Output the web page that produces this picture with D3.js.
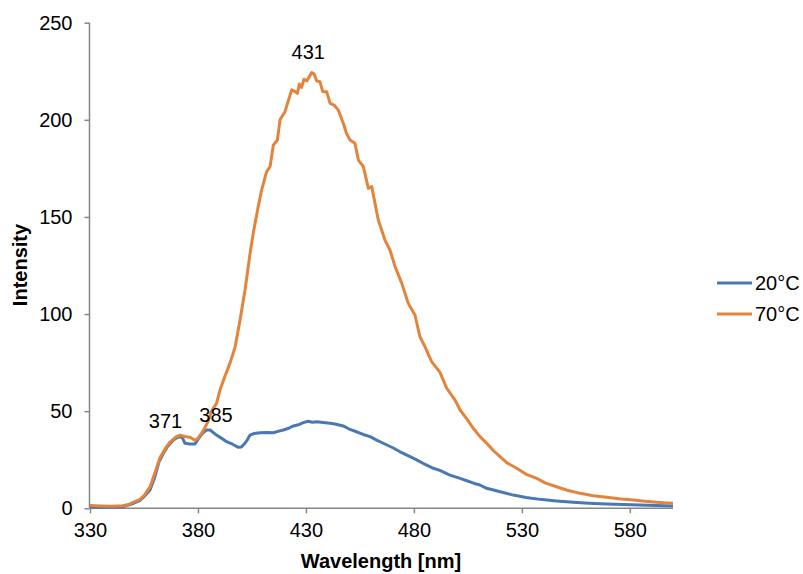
<!DOCTYPE html>
<html>
<head>
<meta charset="utf-8">
<script src="https://cdn.jsdelivr.net/npm/d3@7"></script>
<style>
  html, body { margin: 0; padding: 0; background: #fff; }
  svg { display: block; font-family: "Liberation Sans", Arial, sans-serif; }
</style>
</head>
<body>
<svg id="chart" width="803" height="574"></svg>
<script>
// ---- data ----
const xTicks = [330, 380, 430, 480, 530, 580];
const yTicks = [0, 50, 100, 150, 200, 250];
const seriesNames = ["20°C", "70°C"];

const nm20 = [330, 335, 340, 345, 350, 353, 355, 357.8, 360, 362, 364, 366, 368.6, 370.5, 372.5, 374, 376.3, 378.6, 380.9, 382.5, 384, 385.6, 388.6, 391, 393.3, 396, 398.7, 400, 401.8, 403, 404.1, 406, 408.7, 412, 414.9, 417, 419.5, 422, 424.2, 426.5, 428.8, 431, 433, 435, 438, 441.2, 444, 447.3, 450, 453.5, 456.5, 459.7, 463, 465.8, 470, 473.6, 477.5, 481.3, 485, 489, 492, 496.7, 501.4, 504.5, 508, 510.6, 513.7, 520, 526, 532, 538.4, 546, 553.8, 561, 569.3, 577, 584.7, 592, 600];
const int20 = [0.5, 0.4, 0.5, 0.8, 2.5, 4, 6, 9.4, 16, 24, 28.3, 32, 35.2, 36.5, 36.9, 33.5, 33.1, 33.1, 36.9, 39, 40.3, 40.3, 37.7, 36, 34.3, 33, 31.4, 31.5, 33.5, 35.5, 37.7, 38.5, 38.9, 39, 38.9, 39.6, 40.3, 41.2, 42.4, 43, 44.1, 44.8, 44.3, 44.6, 44.2, 43.8, 43.3, 42.4, 40.8, 39.4, 38, 36.9, 35, 33.5, 31.3, 29.1, 27, 24.9, 22.7, 20.6, 19.5, 17.1, 15.4, 14.2, 12.8, 12, 10.3, 8.5, 6.8, 5.6, 4.6, 3.8, 3.1, 2.6, 2.2, 1.9, 1.7, 1.4, 1.2];

const nm70 = [330, 335, 340, 345, 348, 350, 353, 355, 357.8, 360, 362.4, 365, 367, 369.5, 371.7, 374, 376.5, 378.6, 380, 381.7, 383, 384.6, 386.3, 388.6, 390.2, 392.5, 394.8, 397.2, 399.5, 401.8, 404.1, 405.6, 407.9, 409.5, 411.8, 413.4, 414.9, 416.8, 418, 420.3, 421.9, 423.4, 425, 426, 427, 428, 429.1, 430.4, 432.7, 433.8, 435, 436.5, 437.8, 439.6, 441.2, 443, 445, 447.3, 448.8, 450.4, 452.7, 454.3, 456.6, 458.9, 460.5, 462, 463.5, 466.6, 468.9, 471.3, 474.4, 477.4, 480.5, 482.8, 485.1, 488.2, 492.1, 495.2, 499, 501.4, 504.5, 507.5, 510.5, 513.7, 517, 519.9, 523, 527.6, 532, 536.9, 541, 546.1, 551, 557, 563, 569.3, 575, 581.6, 587, 592.4, 596, 600];
const int70 = [1.5, 1.2, 1.0, 1.3, 2, 3, 4.5, 6.5, 11, 18, 26, 31, 34, 36.5, 37.7, 37, 36.5, 35, 36, 38.7, 41, 44.6, 50, 54, 60.9, 68, 74.6, 83, 97, 112.4, 131, 141.6, 155.3, 163.9, 173.3, 175.9, 187, 189.6, 200, 204.2, 210, 215.4, 214.5, 213.6, 218.4, 216.7, 220.9, 220, 224.3, 223.6, 220, 219.6, 214.5, 214.5, 208.5, 207.6, 205, 198.2, 193, 189.6, 187.9, 179.3, 175.9, 164.7, 165.6, 157, 148.4, 138.1, 133, 124.4, 115.8, 105.5, 99.5, 88.3, 83.2, 75.5, 70, 61.8, 55.8, 50.6, 46, 41.2, 37, 33.5, 29.5, 26.6, 23.5, 20.6, 17.5, 15.4, 13, 11.1, 9.3, 7.7, 6.5, 5.7, 4.9, 4.3, 3.6, 3.1, 2.8, 2.6];

const peakLabels = ["371", "385", "431"];
const peakNm = [371.7, 385.6, 432.7];
const peakVal = [37.7, 40.3, 224.3];

const colors = ["#4a78b4", "#e3843d"];

// ---- chart ----
const svg = d3.select("#chart");
const x = d3.scaleLinear().domain([330, 600]).range([90, 673]);
const y = d3.scaleLinear().domain([0, 250]).range([508.3, 22.7]);
const axisColor = "#868686";

// y axis
const yAxis = svg.append("g").attr("transform", "translate(89.5,0)")
  .call(d3.axisLeft(y).tickValues(yTicks).tickSize(5).tickPadding(12).tickFormat(d3.format("d")));
// x axis
const xAxis = svg.append("g").attr("transform", "translate(0,508.3)")
  .call(d3.axisBottom(x).tickValues(xTicks).tickSize(5).tickPadding(10).tickFormat(d3.format("d")));

[yAxis, xAxis].forEach(g => {
  g.select(".domain").attr("stroke", axisColor).attr("stroke-width", 1.5);
  g.selectAll(".tick line").attr("stroke", axisColor).attr("stroke-width", 1.5);
  g.selectAll(".tick text").attr("fill", "#000").style("font-size", "20px")
    .style("font-family", "'Liberation Sans', Arial, sans-serif");
});
// x-axis domain: make it a flat line (no end ticks)
xAxis.select(".domain").attr("d", `M${x(330)},0H${x(600)}`);
yAxis.select(".domain").attr("d", `M0,${y(250)}V${y(0)}`);

// lines
const series = [
  { name: seriesNames[0], nm: nm20, v: int20, color: colors[0] },
  { name: seriesNames[1], nm: nm70, v: int70, color: colors[1] }
];
const line = d3.line().x(d => x(d[0])).y(d => y(d[1]));
series.forEach(s => {
  svg.append("path")
    .datum(s.nm.map((n, i) => [n, s.v[i]]))
    .attr("fill", "none")
    .attr("stroke", s.color)
    .attr("stroke-width", 3)
    .attr("stroke-linejoin", "round")
    .attr("d", line);
});

// peak annotations
const offs = [[-14.5, -7], [6, -8], [-3.5, -13.5]];
peakLabels.forEach((t, i) => {
  svg.append("text")
    .attr("x", x(peakNm[i]) + offs[i][0])
    .attr("y", y(peakVal[i]) + offs[i][1])
    .attr("text-anchor", "middle")
    .style("font-size", "20px")
    .text(t);
});

// axis titles
svg.append("text")
  .attr("x", 381).attr("y", 568)
  .attr("text-anchor", "middle")
  .style("font-size", "20px").style("font-weight", "bold")
  .text("Wavelength [nm]");
svg.append("text")
  .attr("transform", "translate(27,265) rotate(-90)")
  .attr("text-anchor", "middle")
  .style("font-size", "20px").style("font-weight", "bold")
  .text("Intensity");

// legend
series.forEach((s, i) => {
  const ly = 283 + i * 31;
  svg.append("line")
    .attr("x1", 717).attr("x2", 752)
    .attr("y1", ly).attr("y2", ly)
    .attr("stroke", s.color).attr("stroke-width", 3);
  svg.append("text")
    .attr("x", 755).attr("y", ly + 7)
    .style("font-size", "20px")
    .text(s.name);
});
</script>
</body>
</html>
